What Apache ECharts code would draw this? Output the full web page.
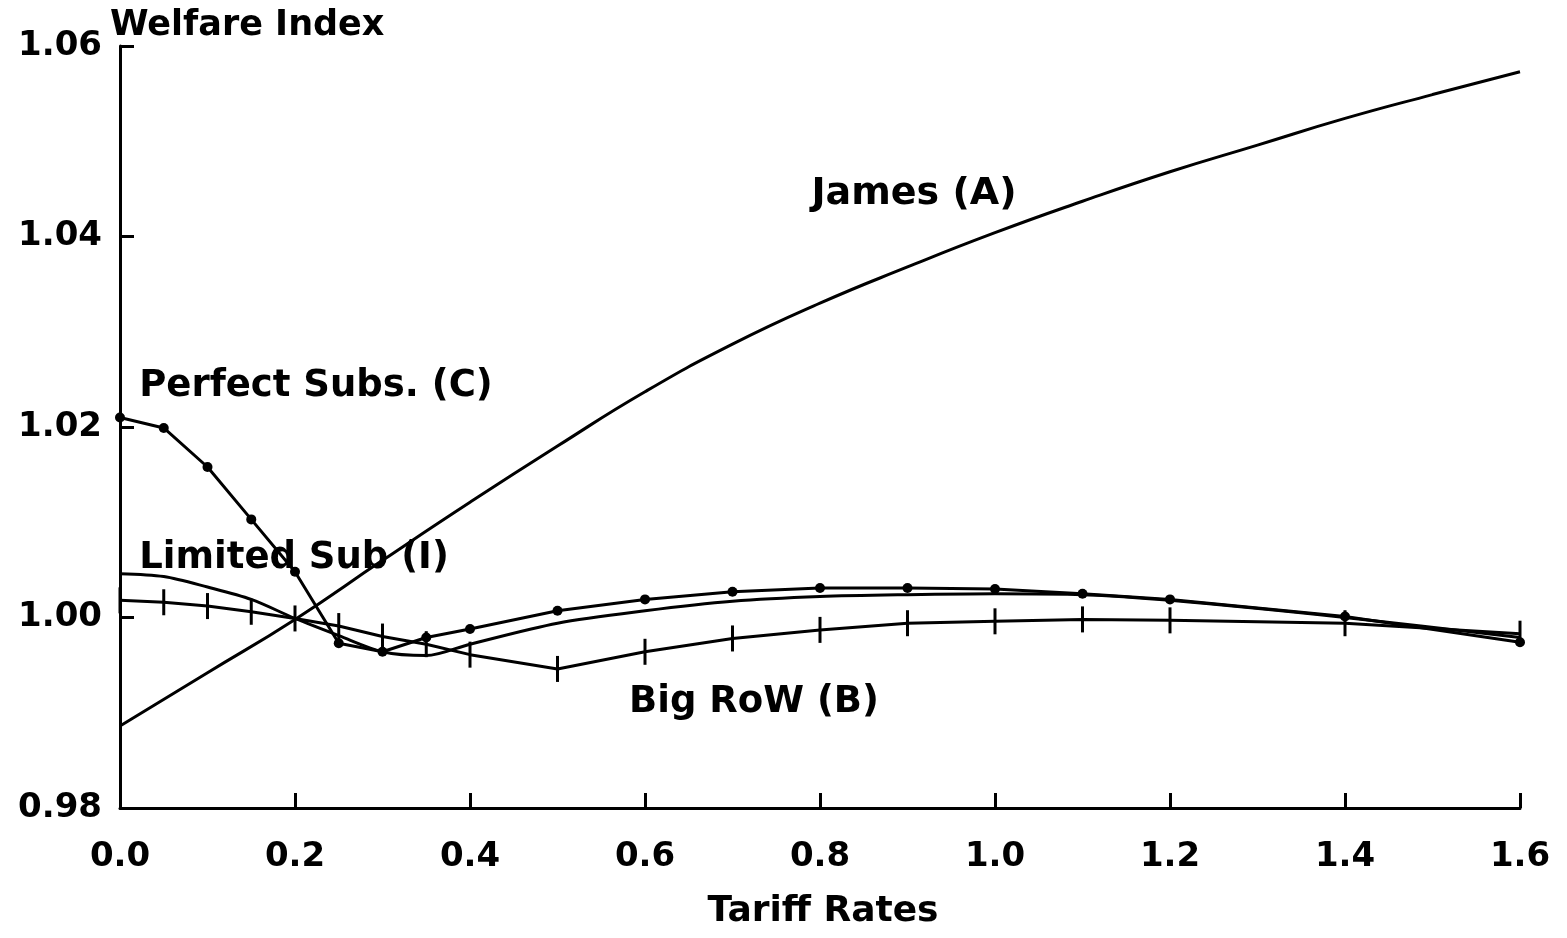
<!DOCTYPE html>
<html>
<head>
<meta charset="utf-8">
<script src="https://cdn.jsdelivr.net/npm/echarts@6/dist/echarts.min.js"></script>
<style>
html,body{margin:0;padding:0;background:#fff;}
#chart{width:1567px;height:938px;}
</style>
</head>
<body>
<div id="chart"></div>
<script>
// Tariff rates where the marked series were computed
const tariffRates = [0, 0.05, 0.1, 0.15, 0.2, 0.25, 0.3, 0.35, 0.4, 0.5, 0.6, 0.7, 0.8, 0.9, 1.0, 1.1, 1.2, 1.4, 1.6];
// Perfect Subs. (C) - dots
const perfectSubs = [1.0210, 1.0199, 1.0158, 1.0103, 1.0048, 0.9973, 0.9964, 0.9979, 0.9988, 1.0007, 1.0019, 1.0027, 1.0031, 1.0031, 1.0030, 1.0025, 1.0019, 1.0001, 0.9974];
// Big RoW (B) - crosses
const bigRoW = [1.0018, 1.0016, 1.0012, 1.0006, 0.9999, 0.9991, 0.9980, 0.9972, 0.9961, 0.9946, 0.9964, 0.9978, 0.9987, 0.9994, 0.9996, 0.9998, 0.9997, 0.9994, 0.9983];
// Limited Sub (I) - plain smooth line
const limitedSub = [1.0046, 1.0043, 1.0032, 1.0019, 0.9999, 0.9981, 0.9964, 0.9960, 0.9972, 0.9994, 1.0007, 1.0017, 1.0022, 1.0024, 1.0025, 1.0024, 1.0018, 1.0000, 0.9979];
// James (A) - plain smooth line
const jamesRates = [0, 0.1, 0.2, 0.3, 0.4, 0.5, 0.6, 0.7, 0.8, 0.9, 1.0, 1.1, 1.2, 1.3, 1.4, 1.5, 1.6];
const james = [0.9886, 0.9942, 0.9998, 1.0060, 1.0121, 1.0180, 1.0237, 1.0287, 1.0330, 1.0368, 1.0404, 1.0437, 1.0468, 1.0496, 1.0524, 1.0549, 1.0573];

const xTickLabels = ['0.0', '0.2', '0.4', '0.6', '0.8', '1.0', '1.2', '1.4', '1.6'];
const yTickLabels = ['0.98', '1.00', '1.02', '1.04', '1.06'];

const labels = {
  yTitle: 'Welfare Index',
  xTitle: 'Tariff Rates',
  james: 'James (A)',
  perfect: 'Perfect Subs. (C)',
  limited: 'Limited Sub (I)',
  bigrow: 'Big RoW (B)'
};

const pair = (xs, ys) => xs.map((x, i) => [x, ys[i]]);
const FONT = '"DejaVu Sans", sans-serif';
const INK = '#000';

const chart = echarts.init(document.getElementById('chart'), null, {renderer: 'canvas'});

function txt(text, x, y, size, align) {
  return {
    type: 'text', x: x, y: y,
    style: {text: text, fill: INK, font: 'bold ' + size + 'px ' + FONT, textAlign: align || 'center', textVerticalAlign: 'middle'}
  };
}

chart.setOption({
  animation: false,
  backgroundColor: '#fff',
  grid: {left: 120, right: 47, top: 46, bottom: 130, containLabel: false},
  xAxis: {
    type: 'value', min: 0, max: 1.6, interval: 0.2,
    axisLine: {show: true, lineStyle: {color: INK, width: 3}},
    axisTick: {show: true, inside: true, length: 15, lineStyle: {color: INK, width: 3}},
    axisLabel: {
      color: INK, fontFamily: FONT, fontWeight: 'bold', fontSize: 34, margin: 32,
      formatter: v => xTickLabels[Math.round(v / 0.2)] || ''
    },
    splitLine: {show: false}
  },
  yAxis: {
    type: 'value', min: 0.98, max: 1.06, interval: 0.02,
    axisLine: {show: true, onZero: false, lineStyle: {color: INK, width: 3}},
    axisTick: {show: true, inside: true, length: 14, lineStyle: {color: INK, width: 3}},
    axisLabel: {
      color: INK, fontFamily: FONT, fontWeight: 'bold', fontSize: 34, margin: 18,
      formatter: v => yTickLabels[Math.round((v - 0.98) / 0.02)] || ''
    },
    splitLine: {show: false}
  },
  series: [
    {
      name: labels.james, type: 'line', data: pair(jamesRates, james),
      smooth: true, showSymbol: false, symbol: 'none',
      lineStyle: {color: INK, width: 3}
    },
    {
      name: labels.perfect, type: 'line', data: pair(tariffRates, perfectSubs),
      symbol: 'circle', symbolSize: 10, showSymbol: true,
      itemStyle: {color: INK},
      lineStyle: {color: INK, width: 3}
    },
    {
      name: labels.limited, type: 'line', data: pair(tariffRates, limitedSub),
      smooth: 0.3, showSymbol: false, symbol: 'none',
      lineStyle: {color: INK, width: 3}
    },
    {
      name: labels.bigrow, type: 'line', data: pair(tariffRates, bigRoW),
      symbol: 'rect', symbolSize: [3, 26], showSymbol: true,
      itemStyle: {color: INK},
      lineStyle: {color: INK, width: 3}
    }
  ],
  graphic: [
    txt(labels.yTitle, 110, 26, 35, 'left'),
    txt(labels.xTitle, 823, 912, 36),
    txt(labels.james, 914, 194, 38),
    txt(labels.perfect, 316, 386, 37),
    txt(labels.limited, 294, 558, 37),
    txt(labels.bigrow, 754, 702, 37)
  ]
});
</script>
</body>
</html>
